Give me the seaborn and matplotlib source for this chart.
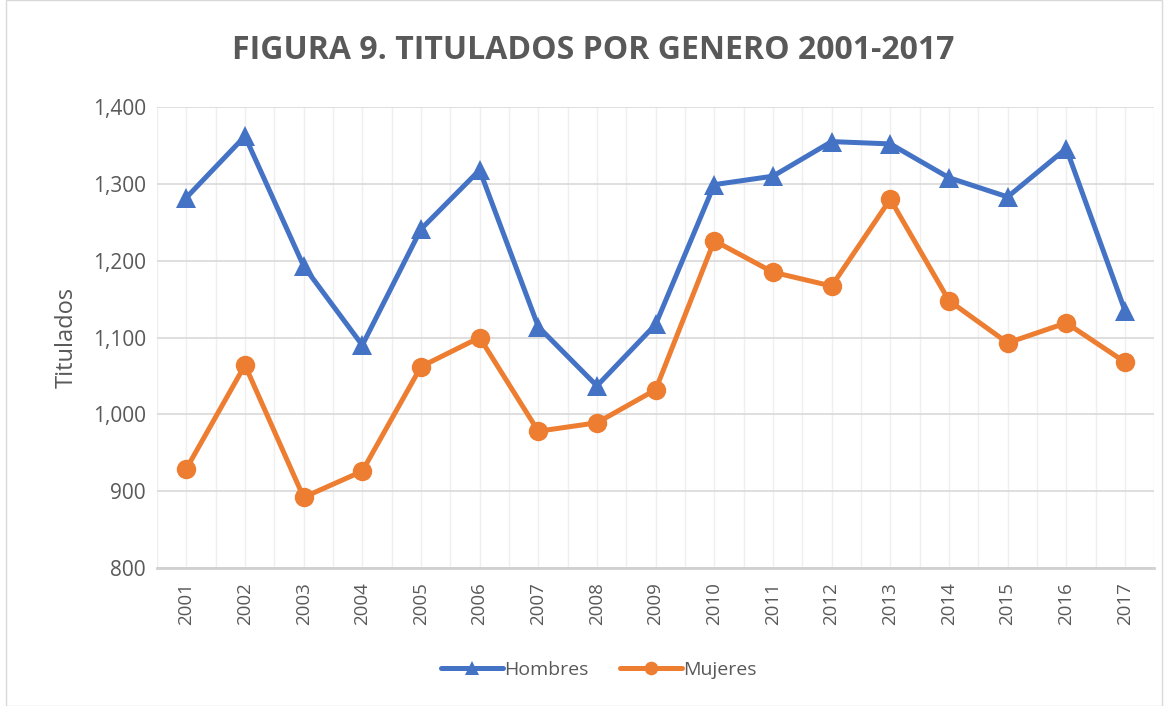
import pandas as pd
import matplotlib.pyplot as plt
import matplotlib.ticker as mtick
import seaborn as sns

years = [str(y) for y in range(2001, 2018)]
hombres = [1282, 1362, 1193, 1090, 1241, 1318, 1114, 1037, 1117,
           1299, 1310, 1355, 1352, 1308, 1283, 1346, 1135]
mujeres = [929, 1064, 892, 926, 1062, 1100, 978, 989, 1032,
           1226, 1185, 1167, 1280, 1148, 1093, 1119, 1068]

df = pd.DataFrame({"anio": years * 2,
                   "titulados": hombres + mujeres,
                   "genero": ["Hombres"] * len(years) + ["Mujeres"] * len(years)})

sns.set_theme(style="white")
plt.rcParams['font.family'] = ['Open Sans', 'DejaVu Sans']
grey = "#595959"

fig = plt.figure(figsize=(11.74, 7.06), dpi=100)
ax = fig.add_axes([0.1337, 0.1955, 0.8495, 0.6529])

sns.lineplot(data=df, x="anio", y="titulados", hue="genero", style="genero",
             palette={"Hombres": "#4472C4", "Mujeres": "#ED7D31"},
             markers={"Hombres": "^", "Mujeres": "o"}, dashes=False,
             linewidth=3.6, markersize=14, markeredgewidth=0, ax=ax)

ax.set_ylim(800, 1400)
ax.set_xlim(-0.5, len(years) - 0.5)
ax.yaxis.set_major_locator(mtick.MultipleLocator(100))
ax.yaxis.set_major_formatter(mtick.FuncFormatter(lambda v, _: f'{int(v):,}'))
ax.xaxis.set_minor_locator(mtick.FixedLocator([i + 0.5 for i in range(-1, len(years))]))

ax.grid(axis="y", which="major", color="#D9D9D9", linewidth=1.2)
ax.grid(axis="x", which="both", color="#EFEFEF", linewidth=1.0)
ax.set_axisbelow(True)
for s in ["top", "right", "left"]:
    ax.spines[s].set_visible(False)
ax.spines["bottom"].set_color("#D0D0D0")
ax.spines["bottom"].set_linewidth(2)

ax.tick_params(axis="x", which="both", length=0, labelrotation=90, labelsize=13.5,
               labelcolor=grey, pad=10)
ax.tick_params(axis="y", length=0, labelsize=15, labelcolor=grey, pad=8)
ax.set_xlabel("")
ax.set_ylabel("Titulados", fontsize=17, color=grey, labelpad=10)

fig.suptitle("FIGURA 9. TITULADOS POR GENERO 2001-2017", x=0.505, y=0.952,
             fontsize=23, fontweight="bold", color=grey)

ax.legend(loc="upper center", bbox_to_anchor=(0.443, -0.163), ncol=2, frameon=False,
          fontsize=14, labelcolor=grey, handlelength=3.2, handletextpad=0.05,
          columnspacing=1.6, markerscale=0.7)

fig.patches.append(plt.Rectangle((0.005, 0.0), 0.985, 1.0, transform=fig.transFigure,
                                 fill=False, edgecolor="#D9D9D9", linewidth=1))

plt.savefig("out.png", dpi=100)
